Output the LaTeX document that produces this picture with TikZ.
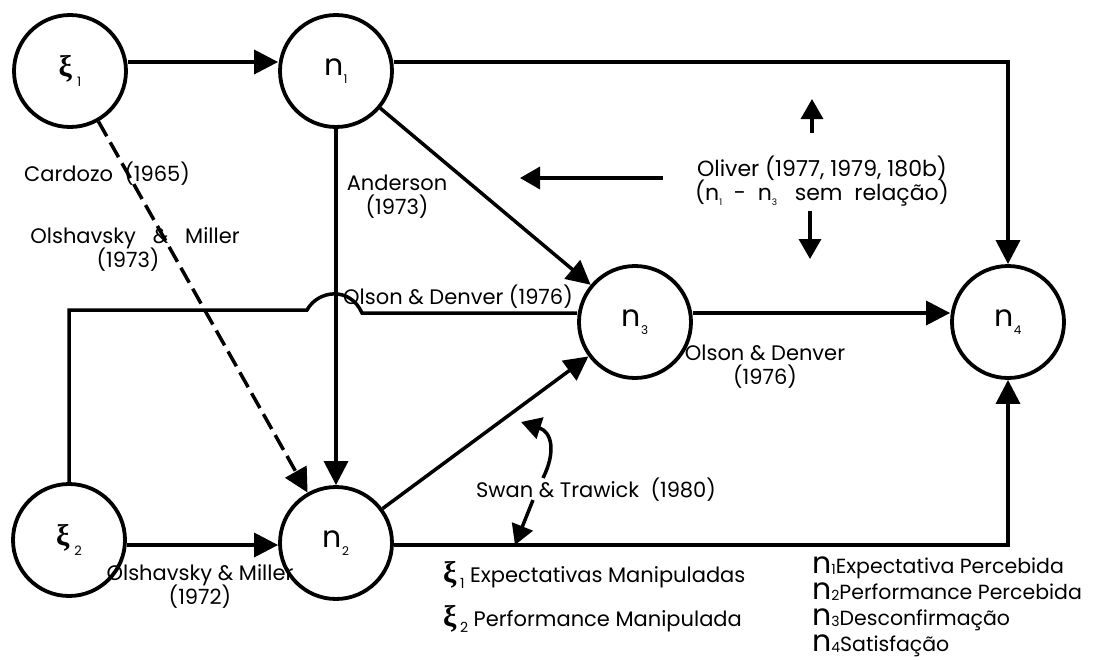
\documentclass[tikz,border=0pt]{standalone}
\usepackage{fontspec}
\setmainfont{Poppins}
\newfontfamily\grk{Liberation Serif}
\usetikzlibrary{arrows.meta}
\newcommand\XIsym[1]{{\grk\bfseries ξ}\,\raisebox{-0.35em}{\fontsize{13}{13}\selectfont #1}}
\newcommand\NNsym[1]{n\raisebox{-0.25em}{\fontsize{12}{12}\selectfont #1}}
\newcommand\LegXi[1]{{\fontsize{30}{30}\grk\bfseries ξ}\,\raisebox{-0.3em}{\fontsize{14}{14}\selectfont #1}}
\newcommand\LegN[1]{{\fontsize{30}{30}\selectfont n}\raisebox{-0.05em}{\fontsize{14}{14}\selectfont #1}}
\tikzset{
  var/.style={circle,draw,line width=3.8pt,minimum size=112pt,inner sep=0pt,font=\fontsize{30}{30}\selectfont},
  conn/.style={line width=3.5pt,-{Triangle[length=24pt,width=24pt]}},
  small/.style={line width=3.5pt,-{Triangle[length=20pt,width=22pt]}},
  plain/.style={line width=3.5pt},
  lbl/.style={font=\fontsize{21}{28}\selectfont,align=center,inner sep=0pt},
  leg/.style={font=\fontsize{21}{44}\selectfont,anchor=north west,align=left,inner sep=0pt},
  legn/.style={font=\fontsize{20.5}{26}\selectfont,anchor=north west,align=left,inner sep=0pt},
}
\begin{document}
\begin{tikzpicture}[x=1pt,y=-1pt]
\useasboundingbox (0,0) rectangle (1098,659);
% nodes
\node[var] (xi1) at (70,71) {\XIsym{1}};
\node[var] (n1) at (336,71) {\NNsym{1}};
\node[var] (n3) at (635,322) {\NNsym{3}};
\node[var] (n4) at (1008,322) {\NNsym{4}};
\node[var] (xi2) at (69,540) {\XIsym{2}};
\node[var] (n2) at (336,543) {\NNsym{2}};
% connectors
\draw[conn] ([yshift=9pt]xi1.east) -- ([yshift=9pt]n1.west);
\draw[conn] ([yshift=9pt]n1.east) -| (n4.north);
\draw[conn] (n1) -- (n2);
\draw[conn] (n1) -- (n3);
\draw[conn,dash pattern=on 17pt off 7pt] (xi1) -- (n2);
\draw[conn] ([yshift=-5pt]xi2.east) -- ([yshift=-2pt]n2.west);
\draw[plain] (xi2.north) |- (307,310) .. controls (318,290) and (350,286) .. (362,313) -- ([yshift=9pt]n3.west);
\draw[conn] ([yshift=9pt]n3.east) -- ([yshift=9pt]n4.west);
\draw[conn] (n2) -- (n3);
\draw[conn] ([yshift=-2pt]n2.east) -| (n4.south);
% labels
\node[lbl] (card) at (107,174) {Cardozo \ (1965)};
\node[lbl] (olsh73) at (135,249) {Olshavsky \ \ \& \ \ Miller\\[-4pt]\hspace*{-14pt}(1973)};
\node[lbl] (and) at (397,197) {Anderson\\[-4pt](1973)};
\node[lbl,anchor=west] (od1) at (343,297) {Olson \& Denver (1976)};
\node[lbl] (od2) at (765,367) {Olson \& Denver\\[-4pt](1976)};
\node[lbl] (olsh72) at (200,586) {Olshavsky \& Miller\\[-4pt](1972)};
\node[lbl] (swan) at (596,490) {Swan \& Trawick \ (1980)};
\node[lbl,font=\fontsize{22}{28}\selectfont] (oliver) at (822,181) {Oliver (1977, 1979, 180b)\\[-4pt](n\raisebox{-0.25em}{\fontsize{9}{9}\selectfont 1} \ - \ n\raisebox{-0.25em}{\fontsize{9}{9}\selectfont 3} \ \ sem \ relação)};
% Oliver arrows
\coordinate (ol0) at (663,178);
\coordinate (ol1) at (520,178);
\draw[small] (ol0) -- (ol1);
\coordinate (ou0) at (812,133);
\coordinate (ou1) at (812,99);
\draw[small] (ou0) -- (ou1);
\coordinate (od0) at (810,211);
\coordinate (od1c) at (810,259);
\draw[small] (od0) -- (od1c);
% Swan & Trawick arrows
\coordinate (sa0) at (543,478);
\coordinate (sa1) at (521,422);
\draw[small] (sa0) .. controls (556,452) and (552,432) .. (sa1);
\coordinate (sb0) at (533,500);
\coordinate (sb1) at (515,545);
\draw[small] (sb0) -- (sb1);
% legends
\node[leg] (lxi) at (443,561) {\LegXi{1}\ Expectativas Manipuladas\\\LegXi{2}\ Performance Manipulada};
\node[legn] (lnn) at (812,557) {\LegN{1}Expectativa Percebida\\\LegN{2}Performance Percebida\\\LegN{3}Desconfirmação\\\LegN{4}Satisfação};
\end{tikzpicture}
\end{document}
